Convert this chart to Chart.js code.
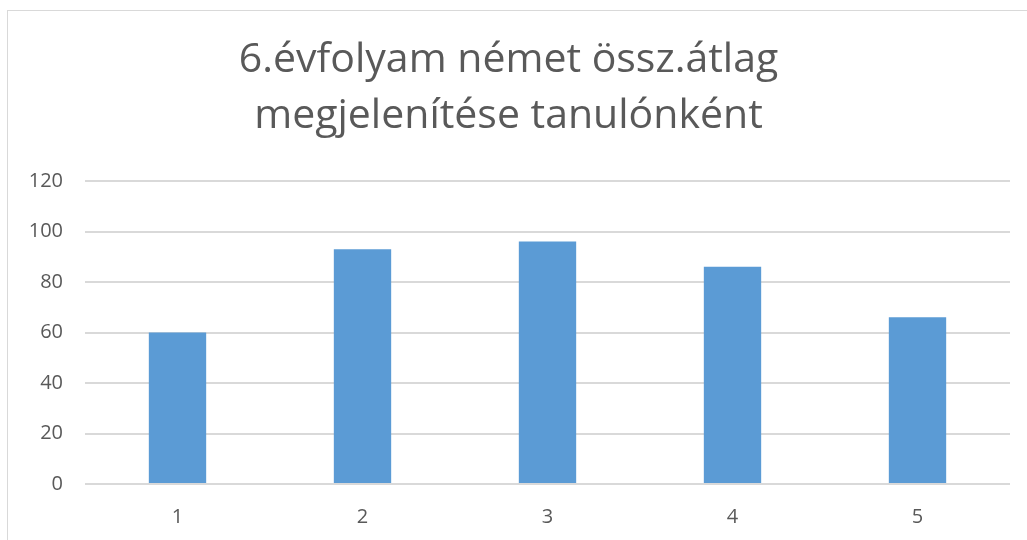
<!DOCTYPE html>
<html>
<head>
<meta charset="utf-8">
<script src="https://cdn.jsdelivr.net/npm/chart.js@4.4.1/dist/chart.umd.min.js"></script>
<style>
    body { margin: 0; background: #fff; overflow: hidden; }
    #Keret { position: absolute; left: 7px; top: 10px; width: 1040px; height: 560px; border: 1px solid #d9d9d9; }
    #Doboz { position: absolute; left: 0; top: 0; width: 1027px; height: 540px; }
</style>
</head>
<body>
<div id="Keret"></div>
<div id="Doboz"><canvas id="ChAtlag"></canvas></div>
<script>
const Cimsorok = ["6.évfolyam német össz.átlag", "megjelenítése tanulónként"];
const Tanulok = ["1", "2", "3", "4", "5"];
const Atlagok = [60, 93, 96, 86, 66];
const YMin = 0;
const YMax = 120;
const YLepes = 20;

const Szurke = "#595959";
const Racs = "#d9d9d9";
const Betu = "'Open Sans', 'Noto Sans', sans-serif";

const InitGrafica = () => {
    var ctx = document.getElementById('ChAtlag');
    new Chart(ctx, {
        type: 'bar',
        data: {
            labels: Tanulok,
            datasets: [{
                label: 'Átlag',
                data: Atlagok,
                backgroundColor: '#5b9bd5',
                borderWidth: 0,
                categoryPercentage: 1,
                barPercentage: 0.31
            }]
        },
        options: {
            responsive: true,
            maintainAspectRatio: false,
            animation: false,
            layout: {
                padding: { left: 7, right: 17, top: 0, bottom: 8 }
            },
            plugins: {
                legend: { display: false },
                tooltip: { enabled: false },
                title: {
                    display: true,
                    text: Cimsorok,
                    color: Szurke,
                    font: { family: Betu, size: 41, weight: 'normal', lineHeight: 1.366 },
                    padding: { top: 32, bottom: 37 }
                }
            },
            scales: {
                x: {
                    grid: { display: false },
                    border: { display: false },
                    ticks: { color: Szurke, font: { family: Betu, size: 20 }, padding: 13 },
                    afterFit: (s) => { s.height = 48; }
                },
                y: {
                    min: YMin,
                    max: YMax,
                    grid: { color: Racs, lineWidth: 2, drawTicks: false },
                    border: { display: false },
                    ticks: { stepSize: YLepes, color: Szurke, font: { family: Betu, size: 20 }, padding: 22 },
                    afterFit: (s) => { s.width = 78; }
                }
            }
        }
    });
};

InitGrafica();
</script>
</body>
</html>
